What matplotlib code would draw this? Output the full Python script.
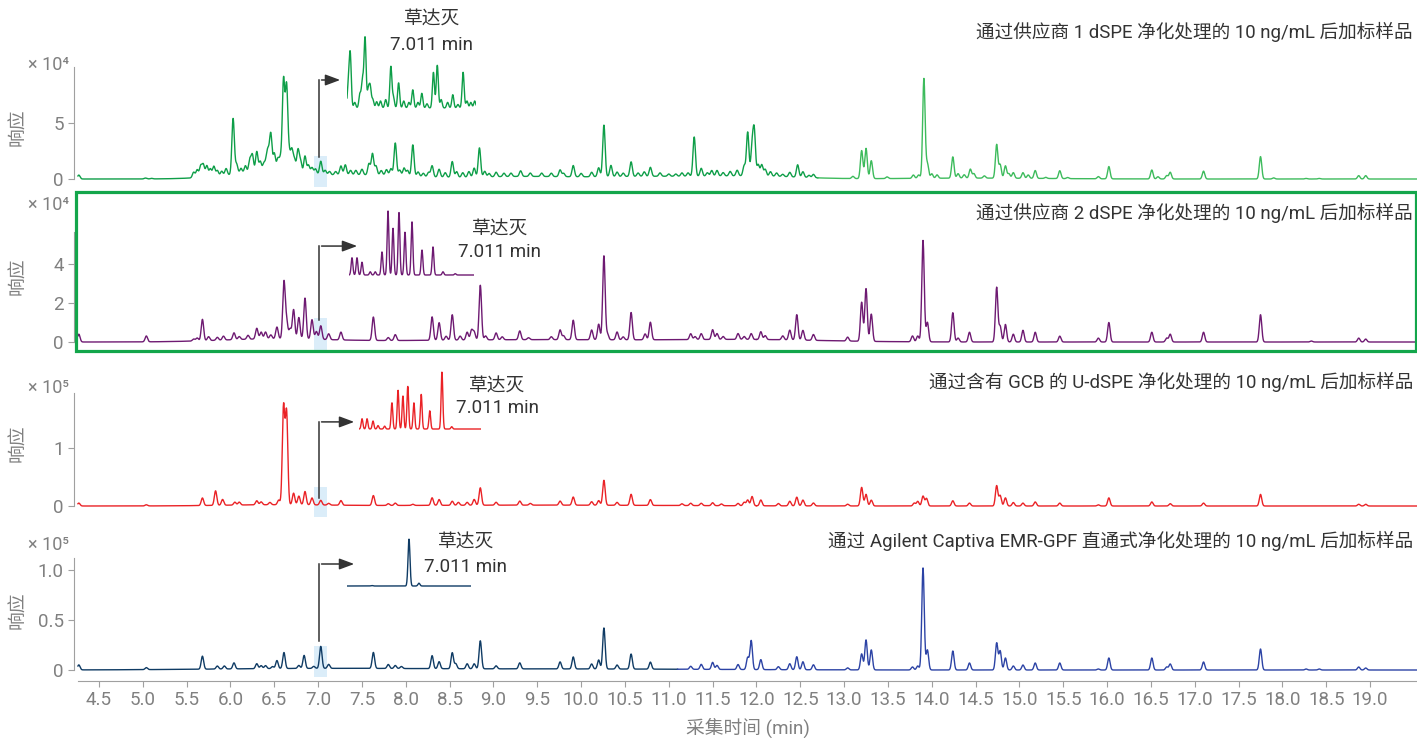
import numpy as np
import matplotlib
matplotlib.use("Agg")
import matplotlib.pyplot as plt
from matplotlib.patches import Rectangle

plt.rcParams['font.family'] = ['Roboto', 'Noto Sans CJK SC', 'DejaVu Sans']

W, H = 1417, 738

# ---------------- data (peak retention times / heights) ----------------
titles = ["通过供应商 1 dSPE 净化处理的 10 ng/mL 后加标样品",
          "通过供应商 2 dSPE 净化处理的 10 ng/mL 后加标样品",
          "通过含有 GCB 的 U-dSPE 净化处理的 10 ng/mL 后加标样品",
          "通过 Agilent Captiva EMR-GPF 直通式净化处理的 10 ng/mL 后加标样品"]
scale_labels = ["× 10⁴", "× 10⁴", "× 10⁵", "× 10⁵"]
yticks = [[0, 5], [0, 2, 4], [0, 1], [0, 0.5, 1.0]]
ytick_labels = [["0", "5"], ["0", "2", "4"], ["0", "1"], ["0", "0.5", "1.0"]]
xticks = [4.5, 5.0, 5.5, 6.0, 6.5, 7.0, 7.5, 8.0, 8.5, 9.0, 9.5, 10.0, 10.5, 11.0,
          11.5, 12.0, 12.5, 13.0, 13.5, 14.0, 14.5, 15.0, 15.5, 16.0, 16.5, 17.0,
          17.5, 18.0, 18.5, 19.0]
target_name = "草达灭"
target_rt = 7.011

p1_rt = [4.27, 5.03, 5.10, 5.58, 5.62, 5.66, 5.69, 5.73, 5.77, 5.81, 5.85, 5.90, 5.95,
         6.03, 6.07, 6.12, 6.17, 6.22, 6.25, 6.30, 6.34, 6.38, 6.41, 6.43, 6.46, 6.50,
         6.54, 6.57, 6.605, 6.64, 6.67, 6.70, 6.73, 6.77, 6.80, 6.85, 6.89, 6.93, 6.97,
         7.03, 7.08, 7.13, 7.20, 7.26, 7.31, 7.37, 7.43, 7.50, 7.58, 7.62, 7.66, 7.72,
         7.78, 7.83, 7.88, 7.93, 7.98, 8.02, 8.08, 8.14, 8.20, 8.26, 8.30, 8.38, 8.45,
         8.53, 8.58, 8.65, 8.72, 8.78, 8.84, 8.90, 8.95, 9.03, 9.12, 9.20, 9.31, 9.42,
         9.55, 9.66, 9.76, 9.80, 9.91, 10.00, 10.12, 10.20, 10.26, 10.34, 10.41, 10.48,
         10.57, 10.65, 10.72, 10.79, 10.90, 11.00, 11.08, 11.15, 11.22, 11.29, 11.37,
         11.44, 11.49, 11.55, 11.62, 11.70, 11.78, 11.86, 11.90, 11.95, 11.975, 12.02,
         12.06, 12.10, 12.16, 12.23, 12.30, 12.38, 12.47, 12.53, 12.60, 12.65, 13.10,
         13.20, 13.25, 13.31, 13.49, 13.79, 13.85, 13.91, 13.95, 14.00, 14.06, 14.24,
         14.30, 14.37, 14.44, 14.48, 14.60, 14.74, 14.78, 14.84, 14.88, 14.93, 15.04,
         15.10, 15.18, 15.30, 15.46, 15.55, 15.90, 16.02, 16.51, 16.58, 16.68, 16.72,
         17.10, 17.75, 17.90, 18.27, 18.42, 18.87, 18.95]
p1_h = [0.35, 0.08, 0.05, 0.5, 0.7, 1.0, 1.1, 1.0, 0.7, 0.9, 0.5, 0.4, 0.6,
        5.0, 0.9, 0.5, 0.7, 1.2, 1.6, 1.9, 1.0, 0.8, 1.0, 1.6, 3.4, 1.7,
        1.2, 1.2, 8.2, 7.6, 1.6, 2.0, 1.2, 2.1, 1.1, 1.6, 0.8, 0.6, 0.5,
        1.2, 0.4, 0.3, 0.3, 0.8, 0.9, 0.4, 0.4, 0.5, 1.0, 1.9, 0.8, 0.4,
        0.5, 0.6, 2.9, 0.5, 0.7, 0.5, 2.8, 0.4, 0.3, 0.4, 1.0, 0.7, 0.4,
        1.4, 0.5, 0.4, 0.5, 0.8, 2.6, 0.5, 0.3, 0.4, 0.3, 0.3, 0.5, 0.3,
        0.3, 0.3, 0.6, 0.3, 1.0, 0.3, 0.4, 0.8, 4.6, 1.0, 0.4, 0.3,
        1.3, 0.3, 0.4, 0.8, 0.3, 0.2, 0.2, 0.3, 0.3, 3.5, 0.7,
        0.3, 0.5, 0.5, 0.3, 0.4, 0.5, 0.9, 3.9, 2.5, 3.9, 1.0,
        1.0, 0.6, 0.4, 0.3, 0.2, 0.4, 1.1, 0.5, 0.2, 0.3, 0.2,
        2.5, 2.7, 1.6, 0.15, 0.3, 0.3, 8.9, 1.3, 0.4, 0.3, 1.9,
        0.4, 0.3, 0.8, 0.4, 0.2, 3.0, 1.2, 1.1, 0.4, 0.5, 0.5,
        0.3, 0.7, 0.1, 0.7, 0.1, 0.2, 1.1, 0.8, 0.2, 0.3, 0.6,
        0.7, 2.0, 0.1, 0.05, 0.05, 0.3, 0.3]
p1_hump = [(6.4, 0.55, 0.45), (7.6, 0.35, 0.5), (9.3, 0.22, 0.6), (10.8, 0.22, 0.6),
           (12.0, 0.25, 0.5), (14.5, 0.08, 0.8)]

p2_rt = [4.27, 5.04, 5.58, 5.62, 5.68, 5.75, 5.85, 5.92, 6.04, 6.10, 6.20, 6.30, 6.35,
         6.40, 6.46, 6.53, 6.61, 6.64, 6.68, 6.72, 6.78, 6.85, 6.93, 6.98, 7.03, 7.12,
         7.26, 7.63, 7.80, 7.88, 8.30, 8.38, 8.46, 8.53, 8.62, 8.70, 8.75, 8.78, 8.85,
         8.91, 9.03, 9.10, 9.30, 9.40, 9.66, 9.76, 9.80, 9.91, 10.12, 10.20, 10.26,
         10.30, 10.41, 10.48, 10.57, 10.73, 10.79, 11.25, 11.30, 11.37, 11.50, 11.55,
         11.62, 11.79, 11.86, 11.94, 12.05, 12.10, 12.30, 12.38, 12.46, 12.53, 12.65,
         13.04, 13.20, 13.25, 13.31, 13.78, 13.84, 13.90, 13.95, 14.24, 14.30, 14.43,
         14.74, 14.78, 14.84, 14.93, 15.04, 15.18, 15.46, 15.90, 16.02, 16.51, 16.68,
         16.72, 17.10, 17.75, 18.33, 18.87, 18.95]
p2_h = [0.4, 0.3, 0.1, 0.15, 1.1, 0.2, 0.15, 0.2, 0.35, 0.15, 0.2, 0.55, 0.35,
        0.35, 0.2, 0.6, 2.9, 0.9, 0.5, 1.5, 1.1, 2.1, 1.0, 0.4, 0.7, 0.3,
        0.4, 1.2, 0.15, 0.3, 1.2, 0.9, 0.2, 1.3, 0.2, 0.4, 0.5, 0.4, 2.8,
        0.2, 0.35, 0.15, 0.45, 0.1, 0.15, 0.5, 0.2, 1.0, 0.5, 0.8, 4.3,
        0.3, 0.4, 0.15, 1.4, 0.3, 0.9, 0.3, 0.15, 0.3, 0.5, 0.3,
        0.15, 0.3, 0.15, 0.3, 0.4, 0.2, 0.2, 0.5, 1.3, 0.5, 0.3,
        0.2, 2.0, 2.7, 1.4, 0.3, 0.3, 5.2, 1.0, 1.5, 0.2, 0.5,
        2.8, 0.8, 0.9, 0.4, 0.6, 0.5, 0.3, 0.2, 1.0, 0.5, 0.2,
        0.4, 0.5, 1.4, 0.05, 0.2, 0.15]
p2_hump = [(6.5, 0.15, 0.6), (9.5, 0.12, 1.5), (12.0, 0.1, 0.8)]

p3_rt = [4.27, 5.04, 5.68, 5.83, 5.91, 6.05, 6.10, 6.30, 6.35, 6.45, 6.55, 6.605, 6.64,
         6.72, 6.78, 6.85, 6.93, 7.03, 7.12, 7.26, 7.63, 7.80, 7.88, 8.08, 8.30, 8.38,
         8.53, 8.60, 8.70, 8.78, 8.85, 9.03, 9.30, 9.42, 9.76, 9.91, 10.12, 10.20,
         10.26, 10.41, 10.57, 10.79, 11.15, 11.25, 11.37, 11.50, 11.60, 11.79, 11.86,
         11.90, 11.95, 12.05, 12.25, 12.38, 12.46, 12.53, 12.65, 13.04, 13.20, 13.25,
         13.31, 13.80, 13.84, 13.90, 13.94, 14.24, 14.43, 14.74, 14.78, 14.84, 14.93,
         15.04, 15.18, 15.46, 15.90, 16.02, 16.51, 16.72, 17.10, 17.75, 18.87, 18.95]
p3_h = [0.05, 0.02, 0.13, 0.25, 0.1, 0.05, 0.05, 0.07, 0.05, 0.04, 0.08, 1.68, 1.58,
        0.2, 0.15, 0.23, 0.12, 0.08, 0.03, 0.08, 0.17, 0.03, 0.04, 0.02, 0.13, 0.1,
        0.07, 0.05, 0.05, 0.1, 0.3, 0.05, 0.07, 0.03, 0.07, 0.14, 0.06, 0.08,
        0.43, 0.05, 0.19, 0.1, 0.03, 0.04, 0.04, 0.05, 0.03, 0.04, 0.06,
        0.1, 0.16, 0.1, 0.04, 0.08, 0.15, 0.1, 0.05, 0.03, 0.32, 0.2,
        0.1, 0.05, 0.08, 0.17, 0.13, 0.09, 0.05, 0.35, 0.18, 0.14, 0.06,
        0.05, 0.07, 0.05, 0.02, 0.14, 0.07, 0.04, 0.05, 0.2, 0.03, 0.03]
p3_hump = [(6.5, 0.02, 0.6), (9.5, 0.015, 1.5)]

p4_rt = [4.27, 5.04, 5.68, 5.85, 5.93, 6.04, 6.30, 6.35, 6.40, 6.48, 6.53, 6.61, 6.78,
         6.84, 6.95, 7.03, 7.12, 7.63, 7.80, 7.88, 7.95, 8.30, 8.38, 8.53, 8.57, 8.70,
         8.78, 8.85, 9.03, 9.30, 9.76, 9.91, 10.12, 10.20, 10.26, 10.41, 10.57, 10.79,
         11.25, 11.37, 11.50, 11.55, 11.79, 11.90, 11.94, 12.05, 12.25, 12.38, 12.46,
         12.53, 12.65, 13.04, 13.20, 13.25, 13.31, 13.78, 13.84, 13.90, 13.95, 14.24,
         14.43, 14.74, 14.78, 14.84, 14.93, 15.04, 15.18, 15.46, 15.90, 16.02, 16.51,
         16.68, 16.72, 17.10, 17.75, 18.27, 18.42, 18.87, 18.95]
p4_h = [0.05, 0.02, 0.13, 0.03, 0.03, 0.06, 0.05, 0.03, 0.03, 0.02, 0.08, 0.16, 0.03,
        0.13, 0.02, 0.22, 0.04, 0.16, 0.04, 0.03, 0.02, 0.13, 0.07, 0.16, 0.05, 0.05,
        0.05, 0.28, 0.03, 0.06, 0.07, 0.12, 0.05, 0.09, 0.41, 0.04, 0.15, 0.07,
        0.03, 0.05, 0.07, 0.04, 0.05, 0.12, 0.29, 0.10, 0.03, 0.06, 0.13,
        0.08, 0.05, 0.02, 0.16, 0.30, 0.20, 0.03, 0.04, 1.02, 0.20, 0.19,
        0.07, 0.27, 0.19, 0.12, 0.04, 0.05, 0.07, 0.07, 0.01, 0.12, 0.12,
        0.03, 0.06, 0.08, 0.21, 0.01, 0.01, 0.03, 0.02]
p4_hump = [(7.0, 0.015, 1.2), (10.0, 0.01, 1.5)]

# zoomed insets around the target: relative position (0-1) and height (% of tallest)
in1_pos = [0.01, 0.025, 0.06, 0.10, 0.12, 0.14, 0.165, 0.18, 0.20, 0.23, 0.26, 0.30, 0.34,
           0.36, 0.40, 0.44, 0.48, 0.51, 0.55, 0.58, 0.62, 0.67, 0.70, 0.73, 0.78, 0.82,
           0.86, 0.90, 0.93, 0.96, 0.99]
in1_h = [30, 76, 8, 20, 40, 100, 25, 29, 12, 9, 10, 12, 59,
         15, 36, 10, 8, 26, 8, 21, 6, 51, 61, 12, 8, 19,
         5, 51, 10, 8, 10]
in2_pos = [0.024, 0.064, 0.104, 0.17, 0.21, 0.264, 0.312, 0.352, 0.40, 0.448, 0.504, 0.584,
           0.672, 0.752, 0.85]
in2_h = [27, 27, 20, 5, 5, 36, 100, 73, 98, 67, 83, 39, 44, 5, 2]
in3_pos = [0.025, 0.066, 0.115, 0.156, 0.21, 0.27, 0.32, 0.36, 0.40, 0.45, 0.51, 0.58,
           0.68, 0.76]
in3_h = [18, 18, 14, 6, 5, 46, 68, 58, 75, 46, 61, 32, 100, 4]
in4_pos = [0.20, 0.50, 0.58]
in4_h = [1, 100, 6]

# ---------------- layout (pixel boxes) ----------------
panels = [
    dict(rt=p1_rt, h=p1_h, hump=p1_hump, top=60, bot=185, zero=179, ppu=11.2, spine_top=10.0,
         colors=("#0e9e48", "#3dbb5c"), split=12.7,
         arrow=(1.96, 8.84, 7.283), span=(2.05, -0.71),
         title_y=32, scale_y=65, label_y=(20, 45), label_x=432,
         inset=dict(pos=in1_pos, h=in1_h, x0=347, x1=476, base=108, full=38, top=30, bot=112, w=0.008)),
    dict(rt=p2_rt, h=p2_h, hump=p2_hump, top=192, bot=351, zero=342, ppu=19.5, spine_top=5.64,
         colors=("#6e1a72", "#6e1a72"), split=12.0,
         arrow=(1.13, 4.92, 7.477), span=(1.23, -0.41),
         title_y=213, scale_y=205, label_y=(230, 252), label_x=500,
         inset=dict(pos=in2_pos, h=in2_h, x0=349, x1=474, base=275, full=211, top=200, bot=280, w=0.007)),
    dict(rt=p3_rt, h=p3_h, hump=p3_hump, top=360, bot=517, zero=506, ppu=58, spine_top=1.95,
         colors=("#ea2226", "#ea2226"), split=12.0,
         arrow=(0.14, 1.45, 7.443), span=(0.33, -0.19),
         title_y=382, scale_y=388, label_y=(387, 408), label_x=497,
         inset=dict(pos=in3_pos, h=in3_h, x0=359, x1=481, base=429, full=372, top=362, bot=433, w=0.007)),
    dict(rt=p4_rt, h=p4_h, hump=p4_hump, top=530, bot=681, zero=670, ppu=100, spine_top=1.12,
         colors=("#0f3b64", "#2c43a5"), split=11.1,
         arrow=(0.29, 1.06, 7.443), span=(0.24, -0.07),
         title_y=541, scale_y=545, label_y=(543, 567), label_x=466,
         inset=dict(pos=in4_pos, h=in4_h, x0=347, x1=471, base=586, full=539, top=530, bot=590, w=0.008)),
]

X_LEFT, X_RIGHT = 74, 1417
XMIN, XMAX = 4.215, 19.535
GRAY = "#808080"
SPINE = "#a0a0a0"
TXT = "#333333"


def fbox(x0, y0, x1, y1):
    return [x0 / W, 1 - y1 / H, (x1 - x0) / W, (y1 - y0) / H]


def chromatogram(t, rt, h, width, humps=()):
    y = np.zeros_like(t)
    for r, a in zip(rt, h):
        y += a * np.exp(-0.5 * ((t - r) / width) ** 2)
    for c, a, w in humps:
        y += a * np.exp(-0.5 * ((t - c) / w) ** 2)
    return y


fig = plt.figure(figsize=(W / 100, H / 100), dpi=100)
t = np.arange(4.26, 19.535, 0.002)

for i, p in enumerate(panels):
    ax = fig.add_axes(fbox(X_LEFT, p["top"], X_RIGHT, p["bot"]))
    ax.patch.set_alpha(0)
    y = chromatogram(t, p["rt"], p["h"], 0.014, p["hump"])
    m1 = t <= p["split"]
    m2 = t >= p["split"] - 0.002
    ax.plot(t[m1], y[m1], color=p["colors"][0], lw=1.0, zorder=3)
    ax.plot(t[m2], y[m2], color=p["colors"][1], lw=1.0, zorder=3)

    ax.set_xlim(XMIN, XMAX)
    ymin = -(p["bot"] - p["zero"]) / p["ppu"]
    ymax = (p["zero"] - p["top"]) / p["ppu"]
    ax.set_ylim(ymin, ymax)

    for s in ["top", "right"]:
        ax.spines[s].set_visible(False)
    ax.spines["left"].set_color(SPINE)
    ax.spines["left"].set_bounds(0, p["spine_top"])
    ax.set_yticks(yticks[i])
    ax.set_yticklabels(ytick_labels[i])
    ax.tick_params(axis="y", colors=SPINE, labelcolor=GRAY, labelsize=13.5, length=4, width=0.8)

    if i == 3:
        ax.spines["bottom"].set_color(SPINE)
        ax.spines["bottom"].set_bounds(4.26, XMAX)
        ax.set_xticks(xticks)
        ax.set_xticklabels(["%.1f" % v for v in xticks])
        ax.tick_params(axis="x", colors=SPINE, labelcolor=GRAY, labelsize=13.5, length=4, width=0.8)
    else:
        ax.spines["bottom"].set_visible(False)
        ax.set_xticks([])

    # highlight of the target peak
    y0s, y1s = p["span"][1], p["span"][0]
    ax.add_patch(Rectangle((6.953, y0s), 0.148, y1s - y0s, facecolor="#d3e9f8",
                           edgecolor="none", alpha=0.8, zorder=1, clip_on=False))

    # pointer arrow to the inset
    ya, yb, tip = p["arrow"]
    ax.plot([target_rt, target_rt], [ya, yb], color=TXT, lw=1.1, zorder=4, clip_on=False)
    ax.annotate("", xy=(tip, yb), xytext=(target_rt - 0.004, yb),
                arrowprops=dict(arrowstyle="-|>,head_length=0.75,head_width=0.28", color=TXT,
                                lw=1.1, mutation_scale=12),
                annotation_clip=False, zorder=4)

    # inset trace
    ins = p["inset"]
    iax = fig.add_axes(fbox(ins["x0"], ins["top"], ins["x1"], ins["bot"]))
    iax.patch.set_alpha(0)
    ppu = (ins["base"] - ins["full"]) / 100.0
    iax.set_ylim(-(ins["bot"] - ins["base"]) / ppu, (ins["base"] - ins["top"]) / ppu)
    iax.set_xlim(0, 1)
    u = np.linspace(0, 1, 600)
    iy = chromatogram(u, ins["pos"], ins["h"], ins["w"])
    iax.plot(u, iy, color=p["colors"][0], lw=1.0)
    iax.axis("off")

    # texts
    fig.text(1413 / W, 1 - p["title_y"] / H, titles[i], ha="right", va="center",
             fontsize=13.4, color=TXT)
    fig.text(28 / W, 1 - p["scale_y"] / H, scale_labels[i], ha="left", va="center",
             fontsize=13, color=GRAY)
    fig.text(18 / W, 1 - ((p["top"] + p["bot"]) / 2 + 5) / H, "响应", ha="center", va="center",
             rotation=90, fontsize=13.5, color=GRAY)
    fig.text(p["label_x"] / W, 1 - p["label_y"][0] / H, target_name, ha="center", va="center",
             fontsize=13.5, color=TXT)
    fig.text(p["label_x"] / W, 1 - p["label_y"][1] / H, "%.3f min" % target_rt, ha="center",
             va="center", fontsize=13.5, color=TXT)

# green frame around the second panel
fig.patches.append(Rectangle((76 / W, 1 - 351 / H), (1416 - 76) / W, (351 - 192) / H,
                             transform=fig.transFigure, fill=False, edgecolor="#13a64b",
                             lw=2.3, zorder=10))

fig.text(748 / W, 1 - 728 / H, "采集时间 (min)", ha="center", va="center", fontsize=13.5, color=GRAY)

fig.savefig("out.png", dpi=100)
